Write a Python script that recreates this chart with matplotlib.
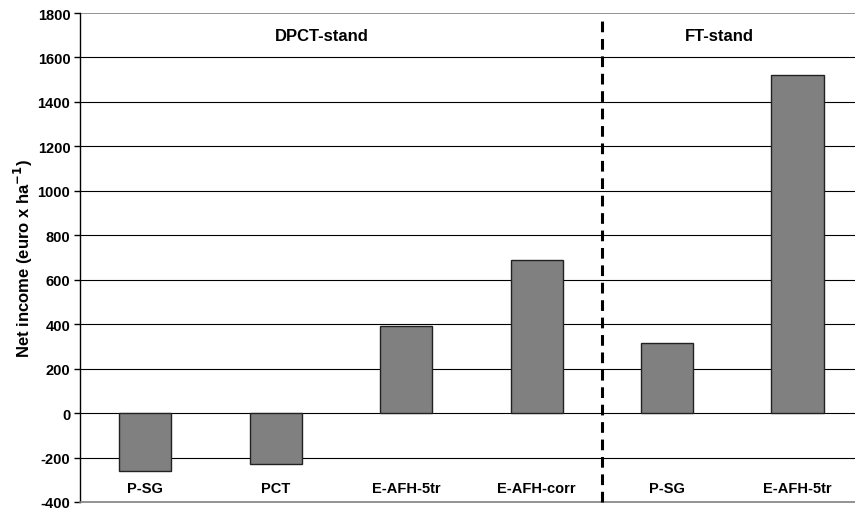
import matplotlib
matplotlib.use("Agg")
import matplotlib.pyplot as plt

plt.rcParams['font.family'] = ['Liberation Sans', 'DejaVu Sans']
plt.rcParams['font.weight'] = 'bold'

categories = ["P-SG", "PCT", "E-AFH-5tr", "E-AFH-corr", "P-SG", "E-AFH-5tr"]
values = [-260, -230, 390, 690, 315, 1520]
groups = ["DPCT-stand", "FT-stand"]
group_x = [1.35, 4.4]
yticks = list(range(-400, 1801, 200))

fig = plt.figure(figsize=(8.55, 5.10), dpi=100)
ax = fig.add_axes([80/855, 7/510, 1 - 80/855, 489/510])

x = list(range(len(categories)))
ax.set_xlim(-0.5, 5.44)
ax.set_ylim(-400, 1800)
for yt in yticks[1:]:
    ax.axhline(yt, color='black' if yt < 1800 else '#808080', lw=0.8 if yt < 1800 else 1.2, zorder=1)
ax.bar(x, values, width=0.4, color='#808080', edgecolor='#222222', linewidth=1.0, zorder=3)

for xi, lab in zip(x, categories):
    ax.text(xi, -335, lab, ha='center', va='center', fontsize=10.5, fontweight='bold')
for gx, g in zip(group_x, groups):
    ax.text(gx, 1700, g, ha='center', va='center', fontsize=12, fontweight='bold')

ax.axvline(3.5, ymin=0.0, ymax=0.985, color='black', lw=2.2, linestyle=(0, (3.5, 2.2)), zorder=4, clip_on=False)

ax.set_yticks(yticks)
ax.set_yticklabels([str(v) for v in yticks], fontsize=10.5, fontweight='bold')
ax.set_xticks([])
ax.tick_params(axis='y', direction='out', length=4, width=1, color='black', pad=3)
ax.spines['top'].set_visible(False)
ax.spines['right'].set_visible(False)
ax.spines['left'].set_color('black')
ax.spines['left'].set_linewidth(1.0)
ax.spines['bottom'].set_color('#808080')
ax.spines['bottom'].set_linewidth(1.2)
ax.set_ylabel("Net income (euro x ha$^{\\mathbf{-1}}$)", fontsize=12, fontweight='bold', labelpad=2)

fig.savefig("out.png", dpi=100)
